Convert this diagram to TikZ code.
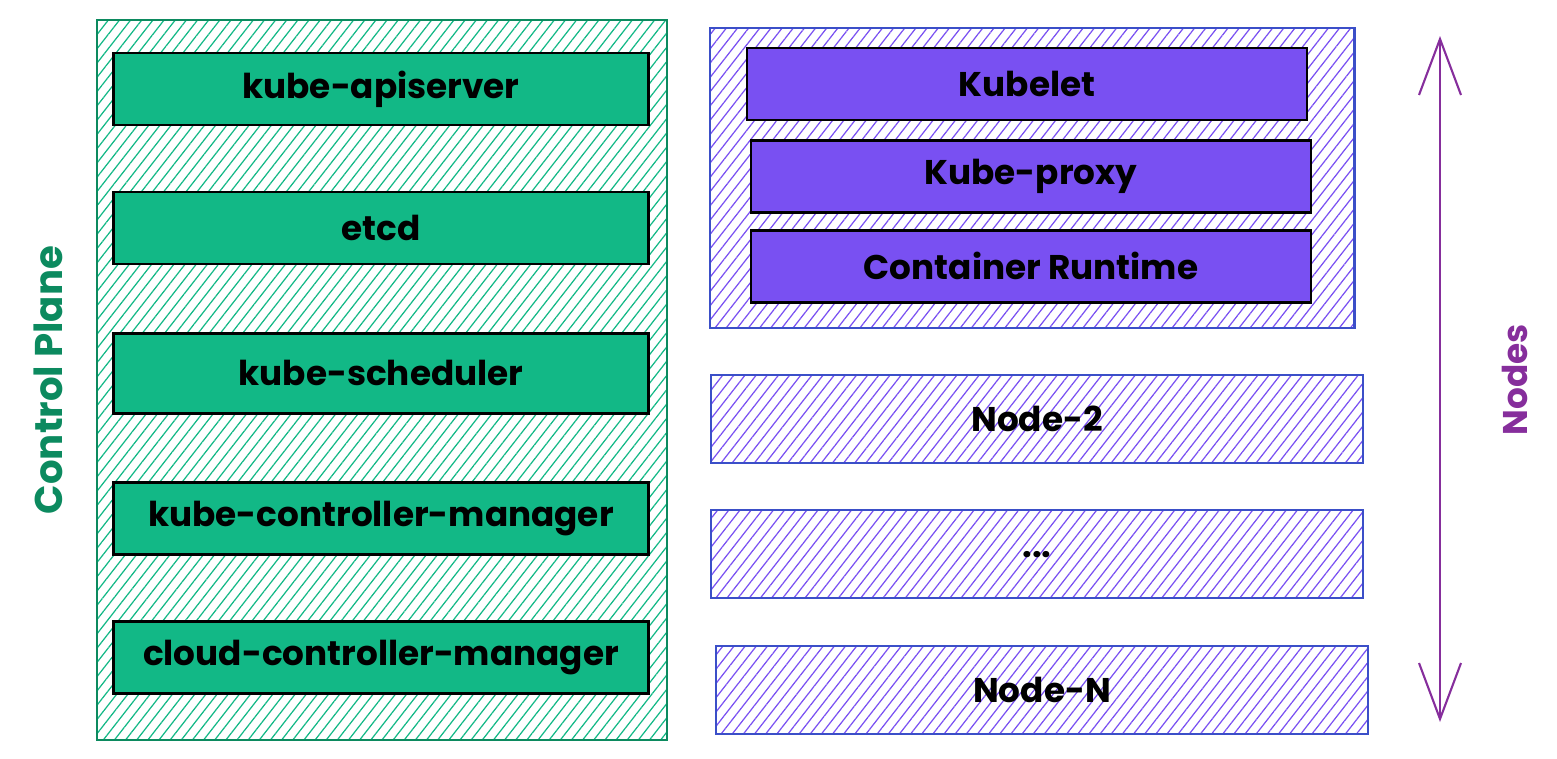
\documentclass[tikz,border=0pt]{standalone}
\usepackage{fontspec}
\setmainfont{Poppins}
\usetikzlibrary{arrows.meta, positioning, patterns.meta}

\definecolor{cpgreen}{HTML}{0C8A5F}
\definecolor{cpfill}{HTML}{12B886}
\definecolor{nodeblue}{HTML}{3B4FC8}
\definecolor{nodeviolet}{HTML}{7950F2}
\definecolor{nodespurple}{HTML}{862E9C}

\begin{document}
\begin{tikzpicture}[
      x=0.02cm, y=-0.02cm,
      font=\fontsize{19.5}{22}\selectfont\bfseries,
      hatched/.style={pattern={Lines[angle=52, distance=5pt, line width=0.7pt]}},
      cpbox/.style={rectangle, draw=cpgreen, line width=1.2pt, hatched,
                    pattern color=cpfill},
      cpblock/.style={rectangle, draw=black, line width=1.5pt, fill=cpfill,
                      minimum width=10.7cm, minimum height=1.44cm},
      nodebox/.style={rectangle, draw=nodeblue, line width=1.2pt, hatched,
                      pattern color=nodeviolet},
      nodeblock/.style={rectangle, draw=black, line width=1.5pt, fill=nodeviolet,
                        minimum width=11.2cm, minimum height=1.44cm},
      workerrow/.style={nodebox, minimum width=13.04cm, minimum height=1.76cm},
      span/.style={draw=nodespurple, line width=1.2pt,
                   {Straight Barb[length=1.12cm, width=0.84cm]}-{Straight Barb[length=1.12cm, width=0.84cm]}}
  ]
      \useasboundingbox (0,0) rectangle (1557,758);

      % control plane
      \node (cp) [cpbox, minimum width=11.4cm, minimum height=14.4cm] at (382,380) {};
      \node (apiserver)  [cpblock] at (381,89) {kube-apiserver};
      \node (etcd)       [cpblock, below=1.29cm of apiserver] {etcd};
      \node (scheduler)  [cpblock, below=1.33cm of etcd, minimum height=1.6cm] {kube-scheduler};
      \node (kcm)        [cpblock, below=1.33cm of scheduler] {kube-controller-manager};
      \node (ccm)        [cpblock, below=1.29cm of kcm] {cloud-controller-manager};
      \node (cplabel) [rotate=90, text=cpgreen, font=\fontsize{22}{25}\selectfont\bfseries]
          at (48,380) {Control Plane};

      % worker nodes
      \node (node1) [nodebox, minimum width=12.9cm, minimum height=6cm] at (1032,178) {};
      \node (kubelet) [nodeblock] at (1027,84) {Kubelet};
      \node (proxy)   [nodeblock, below=0.36cm of kubelet, xshift=0.08cm] {Kube-proxy};
      \node (runtime) [nodeblock, below=0.3cm of proxy] {Container Runtime};

      \node (node2) [workerrow] at (1037,419) {Node-2};
      \node (dots)  [workerrow, below=0.9cm of node2] {...};
      \node (nodeN) [workerrow, below=0.92cm of dots, xshift=0.1cm] {Node-N};

      \coordinate (spantop) at (1440,36);
      \coordinate (spanbottom) at (1440,722);
      \draw [span] (spantop) -- (spanbottom);
      \node (nodeslabel) [rotate=90, text=nodespurple] at (1515,380) {Nodes};
  \end{tikzpicture}
\end{document}
